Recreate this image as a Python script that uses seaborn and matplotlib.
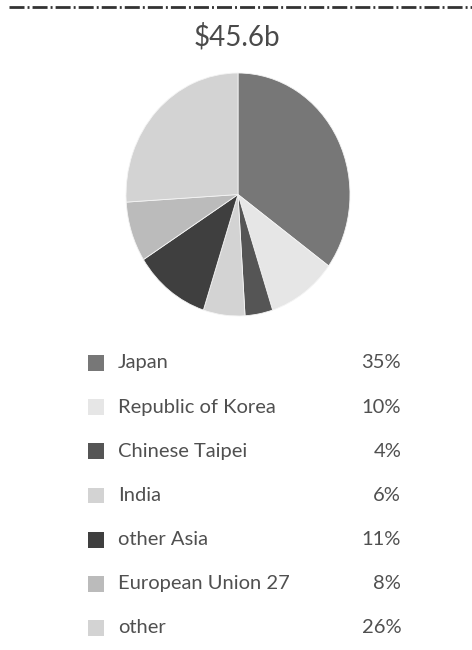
import matplotlib
matplotlib.use("Agg")
import matplotlib.pyplot as plt
import seaborn as sns
import pandas as pd

# dados
regioes = ["Japan", "Republic of Korea", "Chinese Taipei", "India",
           "other Asia", "European Union 27", "other"]
percentuais = [35, 10, 4, 6, 11, 8, 26]
cores = ["#777777", "#e6e6e6", "#555555", "#d3d3d3", "#3f3f3f", "#bbbbbb", "#d3d3d3"]
total = "$45.6b"

sns.set_theme(style="white")
plt.rcParams["font.family"] = ["Lato", "DejaVu Sans"]

fig = plt.figure(figsize=(4.72, 6.5), dpi=100)

# linha tracejada no topo
ax_linha = fig.add_axes([0.02, 0.985, 0.98, 0.01])
ax_linha.plot([0, 1], [0, 0], color="#333333", lw=2, linestyle=(0, (5.4, 1.1, 0.7, 1.1)))
ax_linha.set_xlim(0, 1)
ax_linha.axis("off")

# título
fig.text(0.503, 1 - 37 / 650, total, ha="center", va="center", fontsize=20,
         color="#4a4a4a")

# pizza
ax_pie = fig.add_axes([126 / 472, 1 - 316 / 650, 224 / 472, 243 / 650])
ax_pie.pie(percentuais, colors=cores, startangle=90, counterclock=False,
           wedgeprops=dict(edgecolor="#f4f4f4", linewidth=0.6))
ax_pie.set_aspect("auto")
ax_pie.set_xlim(-1, 1)
ax_pie.set_ylim(-1, 1)

# legenda
ax_leg = fig.add_axes([0, 0, 1, 320 / 650])
df = pd.DataFrame({"regiao": regioes, "pct": percentuais, "pos": range(len(regioes))})
sns.scatterplot(data=df, x=[0.203] * len(df), y="pos", hue="regiao", palette=cores,
                marker="s", s=130, edgecolor="none", legend=False, ax=ax_leg)
for i, row in df.iterrows():
    ax_leg.text(0.25, row["pos"], row["regiao"], va="center", ha="left",
                fontsize=14.5, color="#505050")
    ax_leg.text(0.85, row["pos"], f"{row['pct']}%", va="center", ha="right",
                fontsize=14.5, color="#505050")
ax_leg.set_xlim(0, 1)
ax_leg.set_ylim(6.5, -0.747)
ax_leg.axis("off")

fig.savefig("out.png", dpi=100, facecolor="white")
